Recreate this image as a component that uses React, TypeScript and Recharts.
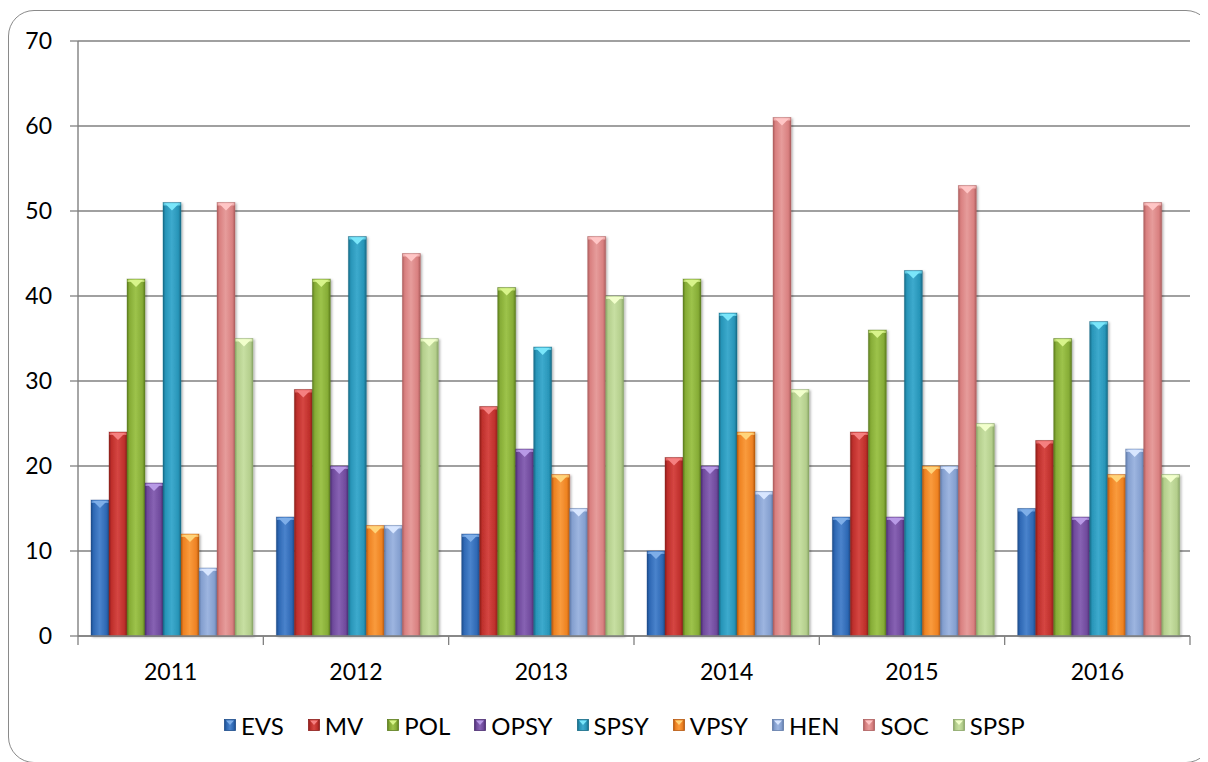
import { BarChart, Bar, XAxis, YAxis, CartesianGrid } from "recharts"

const CATEGORIES = ["2011", "2012", "2013", "2014", "2015", "2016"]
const SERIES = ["EVS", "MV", "POL", "OPSY", "SPSY", "VPSY", "HEN", "SOC", "SPSP"] as const

const EVS = [16, 14, 12, 10, 14, 15]
const MV = [24, 29, 27, 21, 24, 23]
const POL = [42, 42, 41, 42, 36, 35]
const OPSY = [18, 20, 22, 20, 14, 14]
const SPSY = [51, 47, 34, 38, 43, 37]
const VPSY = [12, 13, 19, 24, 20, 19]
const HEN = [8, 13, 15, 17, 20, 22]
const SOC = [51, 45, 47, 61, 53, 51]
const SPSP = [35, 35, 40, 29, 25, 19]

const Y_TICKS = [0, 10, 20, 30, 40, 50, 60, 70]

const VALUES: Record<(typeof SERIES)[number], number[]> = { EVS, MV, POL, OPSY, SPSY, VPSY, HEN, SOC, SPSP }

// dark edge, base, light centre, bevel highlight
const COLORS: Record<(typeof SERIES)[number], [string, string, string, string]> = {
  EVS:  ["#1d4c8a", "#2e68b4", "#4a83cc", "#7eaee8"],
  MV:   ["#8c1e1c", "#be2f2b", "#d54642", "#f58080"],
  POL:  ["#5c7d1e", "#86ac36", "#9dc34b", "#d8f48a"],
  OPSY: ["#4c2d72", "#6f4a9c", "#8762b3", "#b89ae6"],
  SPSY: ["#166a86", "#2895b8", "#3daacd", "#7ae6fa"],
  VPSY: ["#b5580f", "#ee8222", "#f99b3d", "#ffd47a"],
  HEN:  ["#607ba9", "#849fcf", "#9db5e0", "#d8e6ff"],
  SOC:  ["#ad5e5e", "#d98080", "#e69c9b", "#ffc6c6"],
  SPSP: ["#89a566", "#b4ce8c", "#c7dfa2", "#f2ffcc"],
}

const FONT = "Lato, 'Open Sans', sans-serif"
const W = 1200
const H = 754
const MARGIN = { top: 33, right: 18, left: 0, bottom: 96 }
const Y_W = 70
const BAND = (W - MARGIN.left - MARGIN.right - Y_W) / CATEGORIES.length
const AXIS = "#808080"

const data = CATEGORIES.map((year, i) => {
  const row: Record<string, string | number> = { year }
  SERIES.forEach((s) => (row[s] = VALUES[s][i]))
  return row
})

function makeShape(name: (typeof SERIES)[number]) {
  const c = COLORS[name]
  return (props: any) => {
    const { x, y, width, height } = props
    if (!height || height <= 0) return <g />
    const tri = Math.min(8, height)
    return (
      <g filter="url(#barShadow)">
        <rect x={x} y={y} width={width} height={height} fill={`url(#g-${name})`} stroke={c[0]} strokeOpacity={0.45} strokeWidth={0.8} />
        <rect x={x + 0.5} y={y + 0.5} width={width - 1} height={2.5} fill={c[3]} opacity={0.7} />
        <polygon points={`${x + 2},${y + 1} ${x + width - 2},${y + 1} ${x + width / 2},${y + tri}`} fill={c[3]} />
      </g>
    )
  }
}

function XTick(props: any) {
  const { x, y, payload, index } = props
  const left = x - BAND / 2
  return (
    <g>
      <line x1={left} x2={left} y1={y} y2={y + 9} stroke={AXIS} strokeWidth={1.3} />
      {index === CATEGORIES.length - 1 && (
        <line x1={x + BAND / 2} x2={x + BAND / 2} y1={y} y2={y + 9} stroke={AXIS} strokeWidth={1.3} />
      )}
      <text x={x} y={y + 36} dy="0.35em" textAnchor="middle" fontSize={23} fontFamily={FONT} fill="#000">
        {payload.value}
      </text>
    </g>
  )
}

function LegendIcon({ name }: { name: (typeof SERIES)[number] }) {
  const c = COLORS[name]
  return (
    <svg width={12} height={12} style={{ marginRight: 5, display: "block" }}>
      <defs>
        <linearGradient id={`lg-${name}`} x1="0" y1="0" x2="1" y2="0">
          <stop offset="0" stopColor={c[0]} />
          <stop offset="0.2" stopColor={c[1]} />
          <stop offset="0.5" stopColor={c[2]} />
          <stop offset="0.8" stopColor={c[1]} />
          <stop offset="1" stopColor={c[0]} />
        </linearGradient>
      </defs>
      <rect x={0.5} y={0.5} width={11} height={11} fill={`url(#lg-${name})`} stroke={c[0]} strokeWidth={0.8} />
      <polygon points="2,1.5 10,1.5 6,6" fill={c[3]} />
    </svg>
  )
}

export default function App() {
  return (
    <div style={{ position: "relative", width: W, height: H, overflow: "hidden", fontFamily: FONT }}>
      <div
        style={{
          position: "absolute",
          left: 0,
          top: 2,
          width: 1204,
          height: 753,
          border: "1.5px solid #8a8a8a",
          borderRadius: 26,
          boxSizing: "border-box",
        }}
      />
      <div style={{ position: "absolute", left: 0, top: 0 }}>
        <BarChart width={W} height={H} data={data} margin={MARGIN} barCategoryGap={13} barGap={0}>
          <defs>
            {SERIES.map((s) => (
              <linearGradient key={s} id={`g-${s}`} x1="0" y1="0" x2="1" y2="0">
                <stop offset="0" stopColor={COLORS[s][0]} />
                <stop offset="0.14" stopColor={COLORS[s][1]} />
                <stop offset="0.48" stopColor={COLORS[s][2]} />
                <stop offset="0.85" stopColor={COLORS[s][1]} />
                <stop offset="1" stopColor={COLORS[s][0]} />
              </linearGradient>
            ))}
            <filter id="barShadow" x="-30%" y="-10%" width="160%" height="120%">
              <feDropShadow dx={1.5} dy={1} stdDeviation={1.2} floodColor="#000" floodOpacity={0.3} />
            </filter>
          </defs>
          <CartesianGrid vertical={false} stroke={AXIS} strokeWidth={1.4} />
          <XAxis
            dataKey="year"
            interval={0}
            height={30}
            tickSize={0}
            tickMargin={0}
            tickLine={false}
            axisLine={{ stroke: AXIS, strokeWidth: 1.4 }}
            tick={<XTick />}
          />
          <YAxis
            domain={[0, 70]}
            ticks={Y_TICKS}
            width={Y_W}
            tickSize={8}
            tickMargin={18}
            tickLine={{ stroke: AXIS, strokeWidth: 1.3 }}
            axisLine={{ stroke: AXIS, strokeWidth: 1.4 }}
            tick={{ fontSize: 23, fontFamily: FONT, fill: "#000" }}
          />
          {SERIES.map((s) => (
            <Bar key={s} dataKey={s} fill={COLORS[s][1]} shape={makeShape(s)} isAnimationActive={false} />
          ))}
        </BarChart>
      </div>
      <div
        style={{
          position: "absolute",
          left: 216,
          top: 705,
          height: 24,
          display: "flex",
          alignItems: "center",
          fontSize: 24,
          color: "#000",
          whiteSpace: "nowrap",
        }}
      >
        {SERIES.map((s) => (
          <span key={s} style={{ display: "flex", alignItems: "center", marginRight: 24 }}>
            <LegendIcon name={s} />
            {s}
          </span>
        ))}
      </div>
    </div>
  )
}
